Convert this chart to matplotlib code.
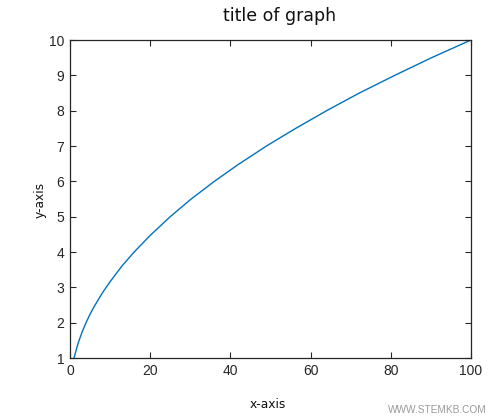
import matplotlib
matplotlib.use('Agg')
import matplotlib.pyplot as plt

# DATA
x_vals = [1, 2, 3, 4, 5, 6, 8, 10, 13, 16, 20, 25, 30, 36, 42, 49, 56, 64, 72, 81, 90, 100]
y_vals = [1, 1.41, 1.73, 2, 2.24, 2.45, 2.83, 3.16, 3.61, 4, 4.47, 5, 5.48, 6, 6.48,
          7, 7.48, 8, 8.49, 9, 9.49, 10]
x_ticks = [0, 20, 40, 60, 80, 100]
y_ticks = [1, 2, 3, 4, 5, 6, 7, 8, 9, 10]

dark = '#262626'

# FIGURE
fig = plt.figure(figsize=(5.02, 4.2), dpi=100)
ax = fig.add_axes([70/502, 62/420, 401/502, 318/420])

ax.plot(x_vals, y_vals, color='#0072BD', linewidth=1.0)
ax.set_xlim(0, 100)
ax.set_ylim(1, 10)
ax.set_xticks(x_ticks)
ax.set_yticks(y_ticks)

for sp in ax.spines.values():
    sp.set_color(dark)
    sp.set_linewidth(0.9)
ax.tick_params(direction='in', top=True, right=True, length=4, width=0.8,
               colors=dark, labelsize=10, pad=4)
for lab in ax.get_xticklabels() + ax.get_yticklabels():
    lab.set_fontfamily('Liberation Sans')

fig.text(280/502, 1 - 16/420, 'title of graph', ha='center', va='center',
         fontsize=12.5, family='DejaVu Sans', color='#111111')
fig.text(268/502, 1 - 404/420, 'x-axis', ha='center', va='center',
         fontsize=8.8, family='DejaVu Sans', color='#111111')
fig.text(40/502, 1 - 200/420, 'y-axis', ha='center', va='center', rotation=90,
         fontsize=8.8, family='DejaVu Sans', color='#111111')
fig.text(487/502, 1 - 410/420, 'WWW.STEMKB.COM', ha='right', va='center',
         fontsize=7.3, family='Liberation Sans', color='#999999')

fig.savefig('out.png', dpi=100)
